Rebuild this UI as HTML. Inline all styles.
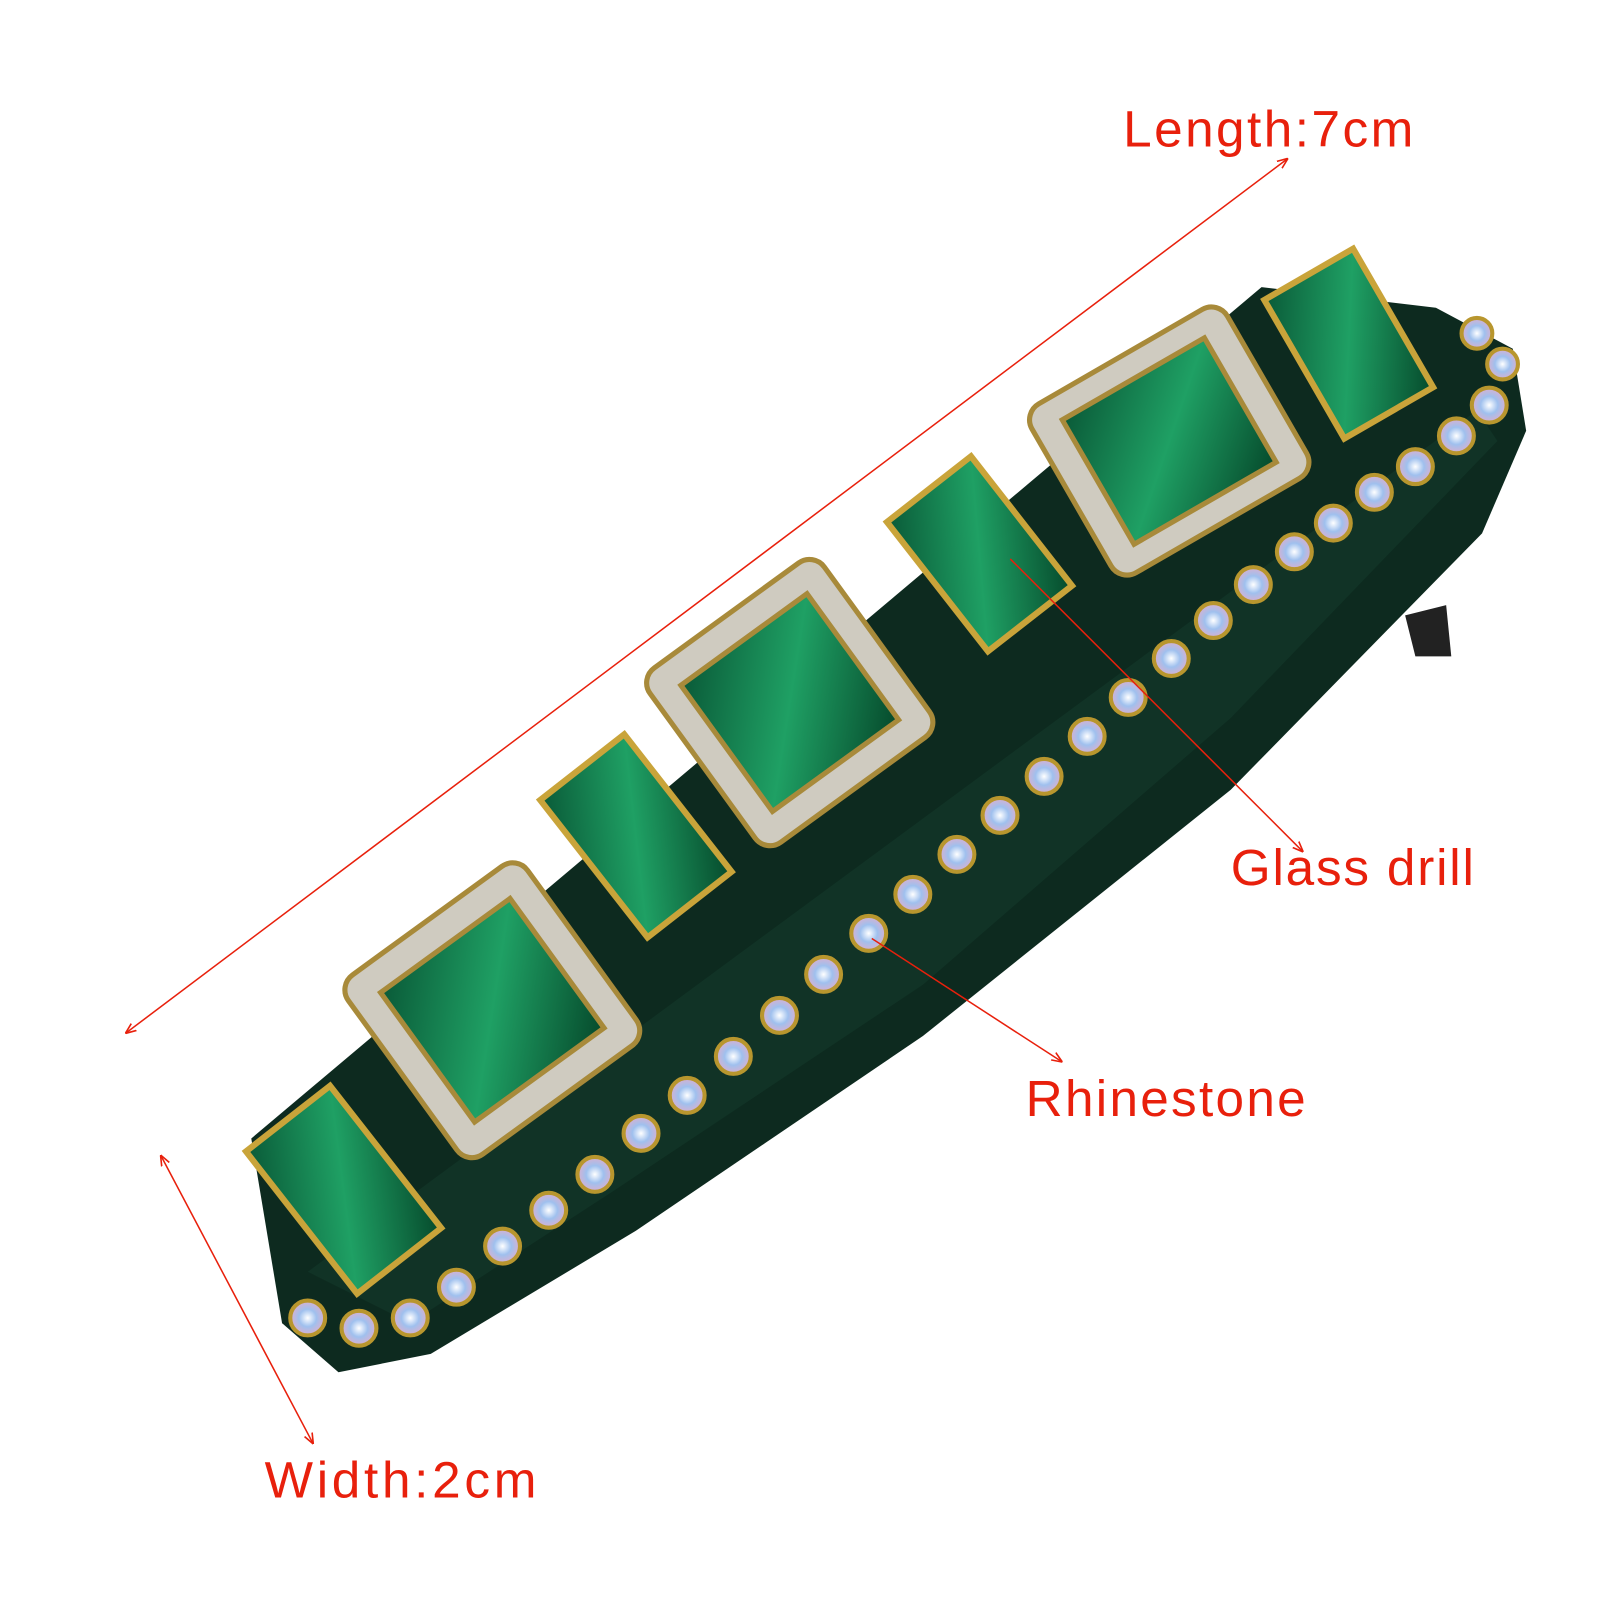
<!DOCTYPE html>
<html><head><meta charset="utf-8"><style>
html,body{margin:0;padding:0;background:#fff;}
svg{display:block}
text{font-family:"Liberation Sans",sans-serif;fill:#e8200c;font-size:50px}
</style></head><body>
<svg width="1600" height="1600" viewBox="0 0 1560 1560" xmlns="http://www.w3.org/2000/svg">
<defs>
<marker id="a" viewBox="0 0 10 10" refX="9" refY="5" markerWidth="7" markerHeight="7" orient="auto-start-reverse"><path d="M0,1 L10,5 L0,9" fill="none" stroke="#e8200c" stroke-width="1.5"/></marker>
<radialGradient id="rs"><stop offset="0" stop-color="#ffffff"/><stop offset=".5" stop-color="#9fc0ee"/><stop offset="1" stop-color="#d9b0d0"/></radialGradient>
<linearGradient id="gm" x1="0" y1="0" x2="1" y2="1"><stop offset="0" stop-color="#0a5a38"/><stop offset=".5" stop-color="#1fa064"/><stop offset="1" stop-color="#064a2c"/></linearGradient>
</defs>
<path d="M1370,600 L1410,590 L1415,640 L1380,640 Z" fill="#222"/>
<path d="M245,1110 L1230,280 L1400,300 L1475,340 L1488,420 L1445,520 L1200,770 L900,1010 L620,1200 L420,1320 L330,1338 L275,1290 Z" fill="#0d2a1f"/>
<path d="M300,1240 L1440,400 L1460,430 L1200,700 L900,960 L600,1160 L400,1290 Z" fill="#143a2b" opacity=".6"/>
<g stroke="#b8962e" stroke-width="4" fill="url(#rs)">
<circle cx="300" cy="1285" r="17"/><circle cx="350" cy="1295" r="17"/><circle cx="400" cy="1285" r="17"/><circle cx="445" cy="1255" r="17"/>
<circle cx="490" cy="1215" r="17"/><circle cx="535" cy="1180" r="17"/><circle cx="580" cy="1145" r="17"/><circle cx="625" cy="1105" r="17"/>
<circle cx="670" cy="1068" r="17"/><circle cx="715" cy="1030" r="17"/><circle cx="760" cy="990" r="17"/><circle cx="803" cy="950" r="17"/>
<circle cx="847" cy="910" r="17"/><circle cx="890" cy="872" r="17"/><circle cx="933" cy="833" r="17"/><circle cx="975" cy="795" r="17"/>
<circle cx="1018" cy="757" r="17"/><circle cx="1060" cy="718" r="17"/><circle cx="1100" cy="680" r="17"/><circle cx="1142" cy="642" r="17"/>
<circle cx="1183" cy="605" r="17"/><circle cx="1222" cy="570" r="17"/><circle cx="1262" cy="538" r="17"/><circle cx="1300" cy="510" r="17"/>
<circle cx="1340" cy="480" r="17"/><circle cx="1380" cy="455" r="17"/><circle cx="1420" cy="425" r="17"/><circle cx="1452" cy="395" r="17"/>
<circle cx="1465" cy="355" r="15"/><circle cx="1440" cy="325" r="15"/>
</g>
<g stroke="#a88a3a" stroke-width="5">
<g transform="translate(480,985) rotate(-36)"><rect x="-108" y="-108" width="216" height="216" rx="18" fill="#cfcbc0"/><rect x="-78" y="-78" width="156" height="156" fill="url(#gm)"/></g>
<g transform="translate(770,685) rotate(-36)"><rect x="-105" y="-105" width="210" height="210" rx="18" fill="#cfcbc0"/><rect x="-76" y="-76" width="152" height="152" fill="url(#gm)"/></g>
<g transform="translate(1140,430) rotate(-30)"><rect x="-110" y="-95" width="220" height="190" rx="18" fill="#cfcbc0"/><rect x="-80" y="-70" width="160" height="140" fill="url(#gm)"/></g>
</g>
<g stroke="#c9a43a" stroke-width="6" fill="url(#gm)">
<g transform="translate(335,1160) rotate(-38)"><rect x="-52" y="-88" width="104" height="176"/></g>
<g transform="translate(620,815) rotate(-38)"><rect x="-52" y="-85" width="104" height="170"/></g>
<g transform="translate(955,540) rotate(-38)"><rect x="-52" y="-80" width="104" height="160"/></g>
<g transform="translate(1315,335) rotate(-30)"><rect x="-50" y="-78" width="100" height="156"/></g>
</g>
<g stroke="#e8200c" stroke-width="1.5" fill="none">
<line x1="1255" y1="155" x2="123" y2="1007" marker-start="url(#a)" marker-end="url(#a)"/>
<line x1="985" y1="545" x2="1270" y2="830" marker-end="url(#a)"/>
<line x1="850" y1="915" x2="1035" y2="1035" marker-end="url(#a)"/>
<line x1="157" y1="1127" x2="305" y2="1407" marker-start="url(#a)" marker-end="url(#a)"/>
</g>
<text x="1095" y="143" textLength="283">Length:7cm</text>
<text x="1200" y="863" textLength="237">Glass drill</text>
<text x="1000" y="1088" textLength="273">Rhinestone</text>
<text x="258" y="1460" textLength="265">Width:2cm</text>
</svg>
</body></html>
